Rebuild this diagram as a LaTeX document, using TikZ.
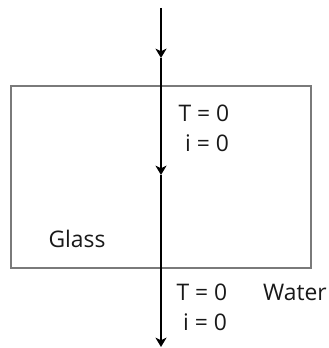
\documentclass[tikz,border=0pt]{standalone}
\usepackage{fontspec}
\setmainfont{Open Sans}
\usetikzlibrary{arrows.meta}
\definecolor{glassedge}{HTML}{7A7A7A}
\tikzset{
  ray/.style={line width=1.3pt, -{Stealth[length=2.8mm, width=3.3mm, inset=0.8mm]}},
  slab/.style={draw=glassedge, line width=1.9pt},
  lbl/.style={font=\fontsize{19.5}{22}\selectfont, inner sep=0pt, text=black!90},
}

\begin{document}
\begin{tikzpicture}[x=0.03cm, y=-0.03cm]
    \useasboundingbox (0,0) rectangle (328,348);
    \draw[slab] (11,86) rectangle (311,268);
    \coordinate (top) at (161,8);
    \coordinate (a1) at (161,58);
    \coordinate (a2) at (161,175);
    \coordinate (bot) at (161,347);
    \draw[ray] (top) -- (a1);
    \draw[ray] (a1) -- (a2);
    \draw[ray] (a2) -- (bot);
    \node[lbl] (t1) at (204,113) {T = 0};
    \node[lbl] (i1) at (207,143) {i = 0};
    \node[lbl] (glass) at (77,239) {Glass};
    \node[lbl] (t2) at (202,292) {T = 0};
    \node[lbl] (i2) at (205,322) {i = 0};
    \node[lbl] (water) at (295,292) {Water};
  \end{tikzpicture}
\end{document}
